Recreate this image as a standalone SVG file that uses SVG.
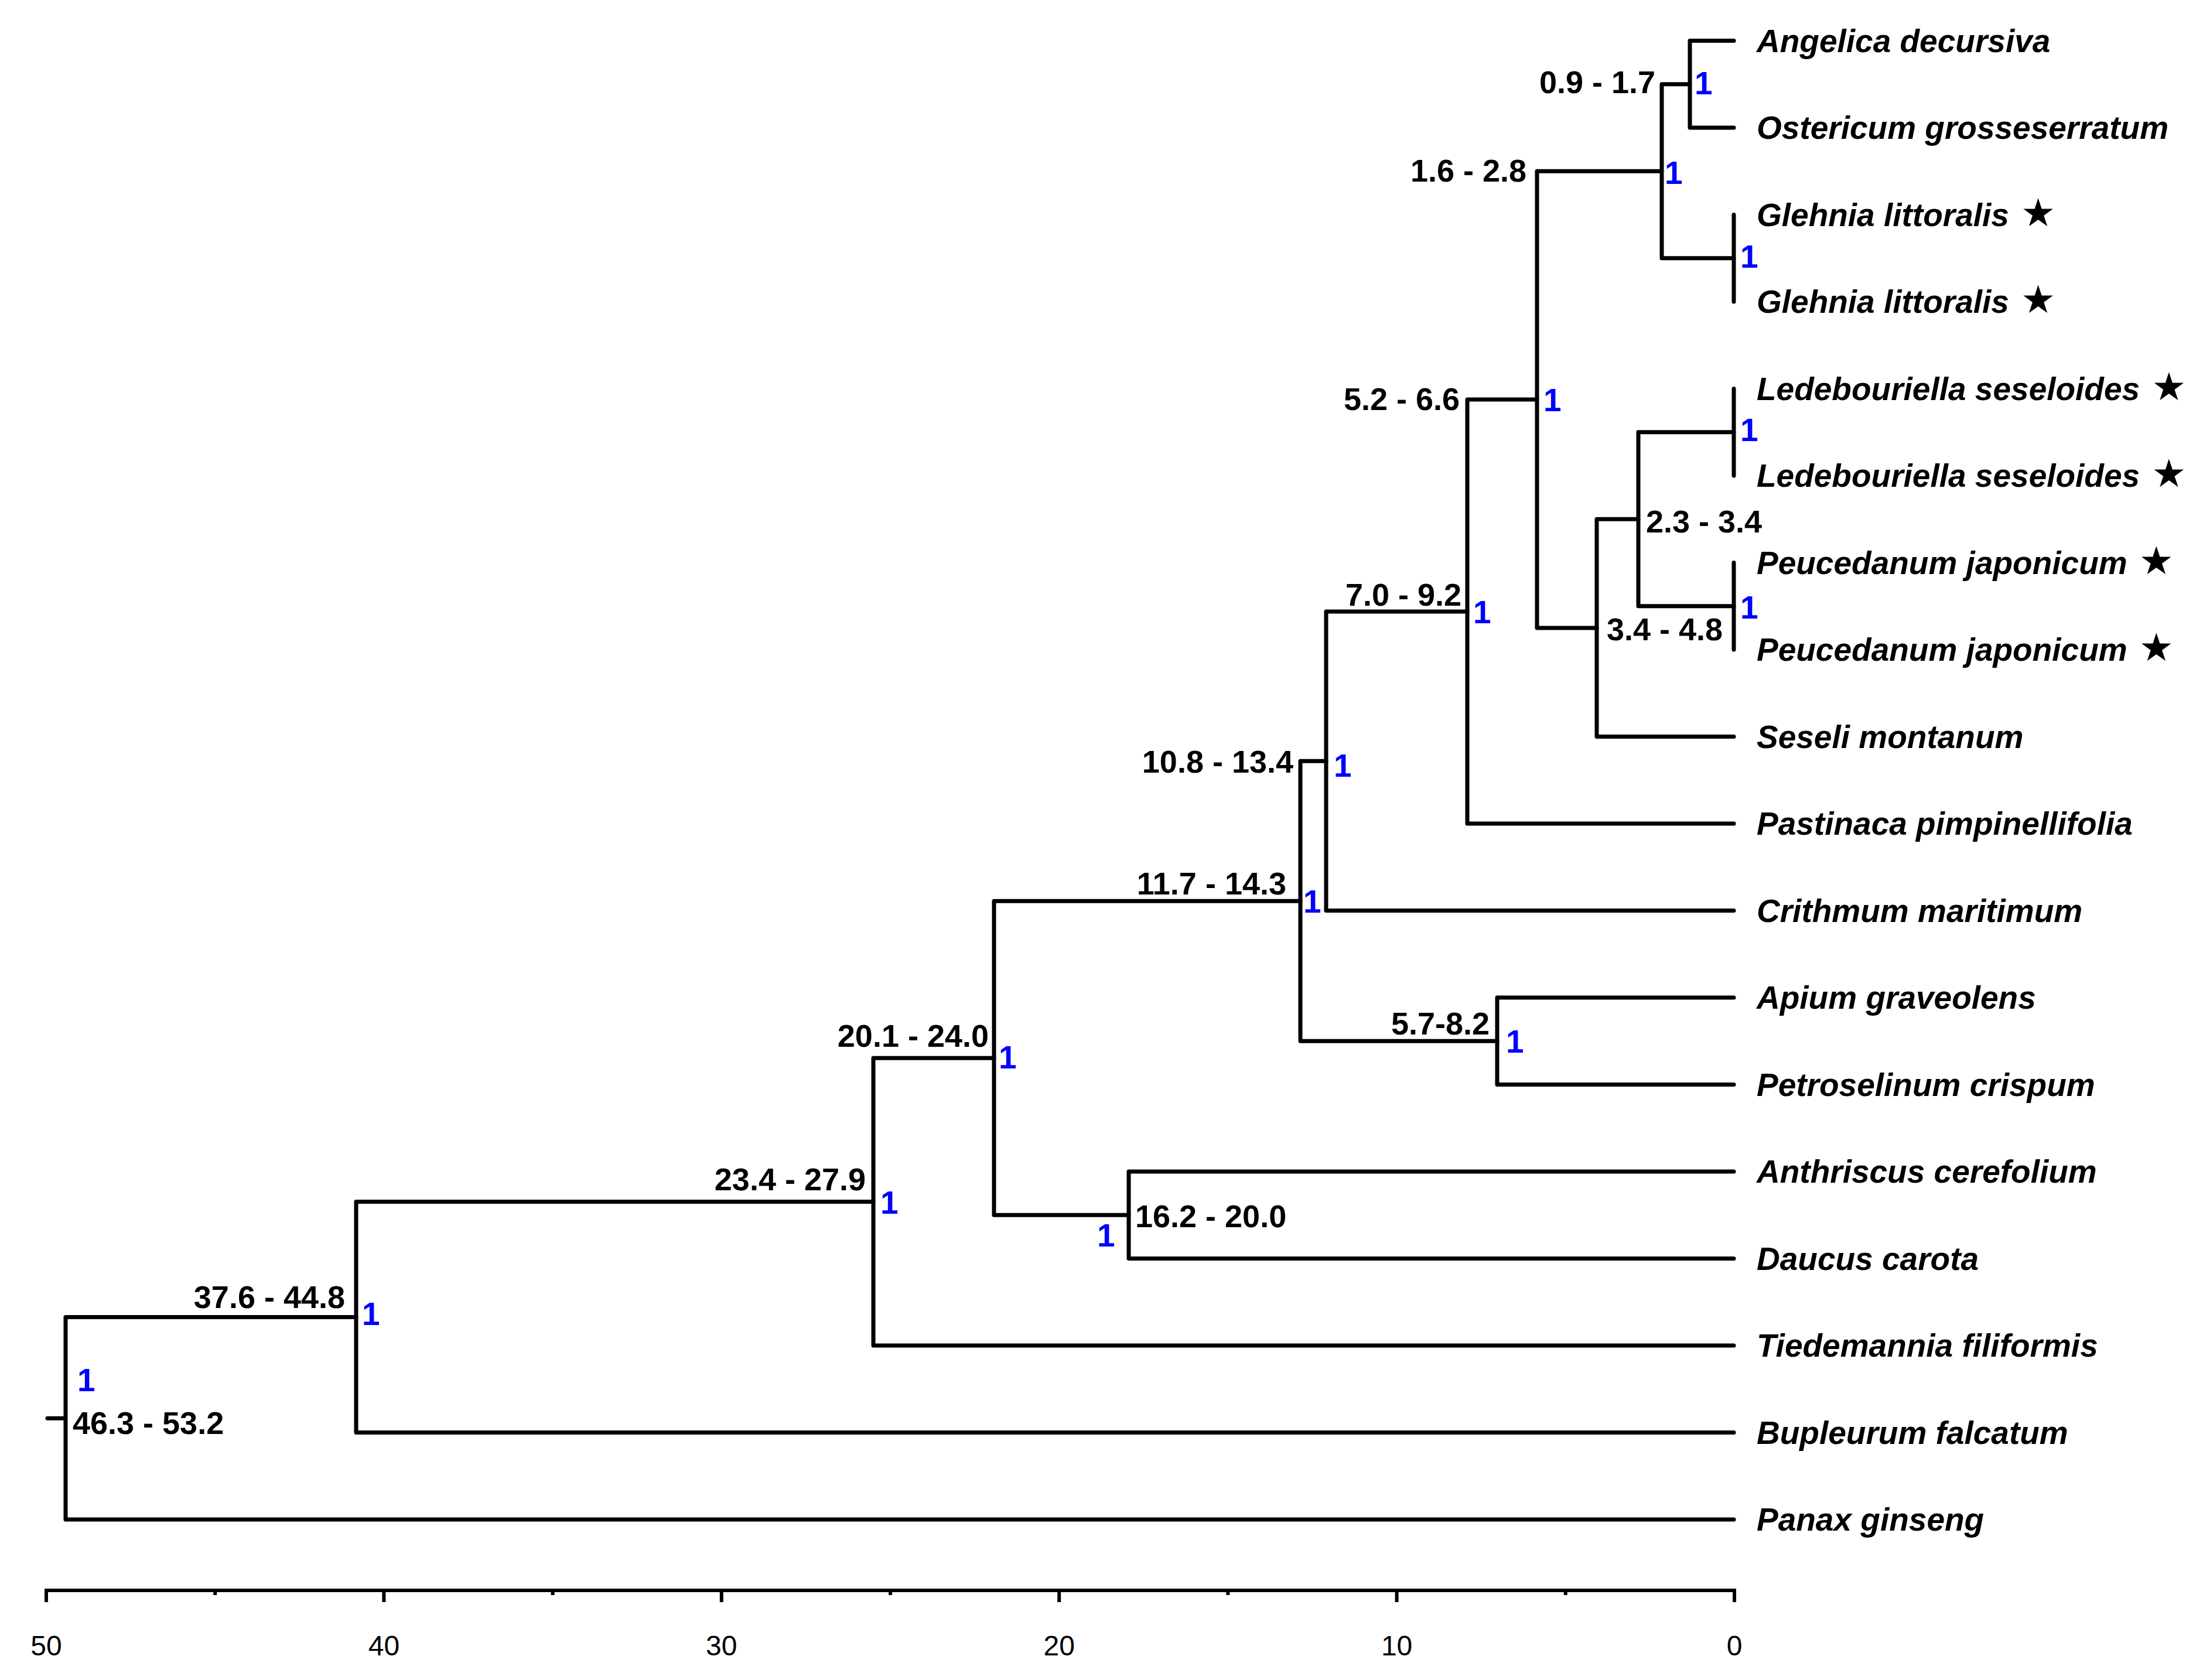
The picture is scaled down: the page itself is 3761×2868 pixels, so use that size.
<svg xmlns="http://www.w3.org/2000/svg" width="3761" height="2868" viewBox="0 0 3761 2868">
<style>
.br{fill:none;stroke:#000;stroke-width:7;stroke-linecap:round;stroke-linejoin:round}
.ax{fill:none;stroke:#000;stroke-width:6;stroke-linecap:butt}
.sp{font-family:"Liberation Sans",Arial,sans-serif;font-weight:bold;font-style:italic;font-size:55px;fill:#000}
.star{font-family:"DejaVu Sans",sans-serif;font-weight:normal;font-style:normal;font-size:66px}
.age{font-family:"Liberation Sans",Arial,sans-serif;font-weight:bold;font-size:54px;fill:#000}
.pp{font-family:"Liberation Sans",Arial,sans-serif;font-weight:bold;font-size:55px;fill:#0000FF}
.tk{font-family:"Liberation Sans",Arial,sans-serif;font-size:48px;fill:#000;text-anchor:middle}
.e{text-anchor:end}
</style>
<rect width="3761" height="2868" fill="#fff"/>
<g id="connectors">
<path class="br" d="M2885 69.5V218M2885 69.5H2960M2885 218H2960"/>
<path class="br" d="M2960 366.5V515"/>
<path class="br" d="M2837 143.75V440.75M2837 143.75H2885M2837 440.75H2960"/>
<path class="br" d="M2960 663.5V812"/>
<path class="br" d="M2960 960.5V1109"/>
<path class="br" d="M2797 737.75V1034.75M2797 737.75H2960M2797 1034.75H2960"/>
<path class="br" d="M2726 886.25V1257.5M2726 886.25H2797M2726 1257.5H2960"/>
<path class="br" d="M2624 292.25V1071.9M2624 292.25H2837M2624 1071.9H2726"/>
<path class="br" d="M2505 682.1V1406M2505 682.1H2624M2505 1406H2960"/>
<path class="br" d="M2264 1044V1554.5M2264 1044H2505M2264 1554.5H2960"/>
<path class="br" d="M2556 1703V1851.5M2556 1703H2960M2556 1851.5H2960"/>
<path class="br" d="M2220 1299.3V1777.25M2220 1299.3H2264M2220 1777.25H2556"/>
<path class="br" d="M1927 2000V2148.5M1927 2000H2960M1927 2148.5H2960"/>
<path class="br" d="M1697 1538.3V2074.25M1697 1538.3H2220M1697 2074.25H1927"/>
<path class="br" d="M1491 1806.3V2297M1491 1806.3H1697M1491 2297H2960"/>
<path class="br" d="M608 2051.6V2445.5M608 2051.6H1491M608 2445.5H2960"/>
<path class="br" d="M112 2248.6V2594M112 2248.6H608M112 2594H2960M81 2421.3H112"/>
</g>
<g id="taxa">
<g id="t0"><text class="sp" x="2999" y="88.5">Angelica decursiva</text></g>
<g id="t1"><text class="sp" x="2999" y="237">Ostericum grosseserratum</text></g>
<g id="t2"><text class="sp" x="2999" y="385.5">Glehnia littoralis<tspan class="star" dx="20">★</tspan></text></g>
<g id="t3"><text class="sp" x="2999" y="534">Glehnia littoralis<tspan class="star" dx="20">★</tspan></text></g>
<g id="t4"><text class="sp" x="2999" y="682.5">Ledebouriella seseloides<tspan class="star" dx="20">★</tspan></text></g>
<g id="t5"><text class="sp" x="2999" y="831">Ledebouriella seseloides<tspan class="star" dx="20">★</tspan></text></g>
<g id="t6"><text class="sp" x="2999" y="979.5">Peucedanum japonicum<tspan class="star" dx="20">★</tspan></text></g>
<g id="t7"><text class="sp" x="2999" y="1128">Peucedanum japonicum<tspan class="star" dx="20">★</tspan></text></g>
<g id="t8"><text class="sp" x="2999" y="1276.5">Seseli montanum</text></g>
<g id="t9"><text class="sp" x="2999" y="1425">Pastinaca pimpinellifolia</text></g>
<g id="t10"><text class="sp" x="2999" y="1573.5">Crithmum maritimum</text></g>
<g id="t11"><text class="sp" x="2999" y="1722">Apium graveolens</text></g>
<g id="t12"><text class="sp" x="2999" y="1870.5">Petroselinum crispum</text></g>
<g id="t13"><text class="sp" x="2999" y="2019">Anthriscus cerefolium</text></g>
<g id="t14"><text class="sp" x="2999" y="2167.5">Daucus carota</text></g>
<g id="t15"><text class="sp" x="2999" y="2316">Tiedemannia filiformis</text></g>
<g id="t16"><text class="sp" x="2999" y="2464.5">Bupleurum falcatum</text></g>
<g id="t17"><text class="sp" x="2999" y="2613">Panax ginseng</text></g>
</g>
<g id="nodes">
<g id="nA"><text class="age e" x="2826" y="159">0.9 - 1.7</text><text class="pp" x="2893" y="161">1</text></g>
<g id="nG"><text class="pp" x="2971" y="457">1</text></g>
<g id="nB"><text class="age e" x="2606" y="310">1.6 - 2.8</text><text class="pp" x="2842" y="314">1</text></g>
<g id="nPl"><text class="pp" x="2971" y="753">1</text></g>
<g id="nPp"><text class="pp" x="2971" y="1056">1</text></g>
<g id="nE"><text class="age" x="2810" y="909">2.3 - 3.4</text></g>
<g id="nD"><text class="age" x="2743" y="1093">3.4 - 4.8</text></g>
<g id="nC"><text class="age e" x="2492" y="700">5.2 - 6.6</text><text class="pp" x="2635" y="702">1</text></g>
<g id="nH"><text class="age e" x="2495" y="1034">7.0 - 9.2</text><text class="pp" x="2515" y="1064">1</text></g>
<g id="nI"><text class="age e" x="2208" y="1319">10.8 - 13.4</text><text class="pp" x="2277" y="1326">1</text></g>
<g id="nJ"><text class="age e" x="2196" y="1527">11.7 - 14.3</text><text class="pp" x="2225" y="1558">1</text></g>
<g id="nK"><text class="age e" x="2543" y="1766">5.7-8.2</text><text class="pp" x="2571" y="1797">1</text></g>
<g id="nL"><text class="age e" x="1688" y="1787">20.1 - 24.0</text><text class="pp" x="1705" y="1824">1</text></g>
<g id="nM"><text class="age" x="1938" y="2095">16.2 - 20.0</text><text class="pp" x="1873" y="2128">1</text></g>
<g id="nN"><text class="age e" x="1478" y="2032">23.4 - 27.9</text><text class="pp" x="1503" y="2072">1</text></g>
<g id="nO"><text class="age e" x="589" y="2233">37.6 - 44.8</text><text class="pp" x="618" y="2262">1</text></g>
<g id="nR"><text class="age" x="124" y="2448">46.3 - 53.2</text><text class="pp" x="132" y="2375">1</text></g>
</g>
<g id="axis">
<path class="ax" d="M79 2715H2961"/>
<path class="ax" d="M79 2712V2735M655.4 2712V2735M1231.8 2712V2735M1808.2 2712V2735M2384.6 2712V2735M2961 2712V2735"/>
<path class="ax" d="M367.2 2712V2723M943.6 2712V2723M1520 2712V2723M2096.4 2712V2723M2672.8 2712V2723"/>
<text class="tk" x="79" y="2826">50</text>
<text class="tk" x="655.4" y="2826">40</text>
<text class="tk" x="1231.8" y="2826">30</text>
<text class="tk" x="1808.2" y="2826">20</text>
<text class="tk" x="2384.6" y="2826">10</text>
<text class="tk" x="2961" y="2826">0</text>
</g>
</svg>
